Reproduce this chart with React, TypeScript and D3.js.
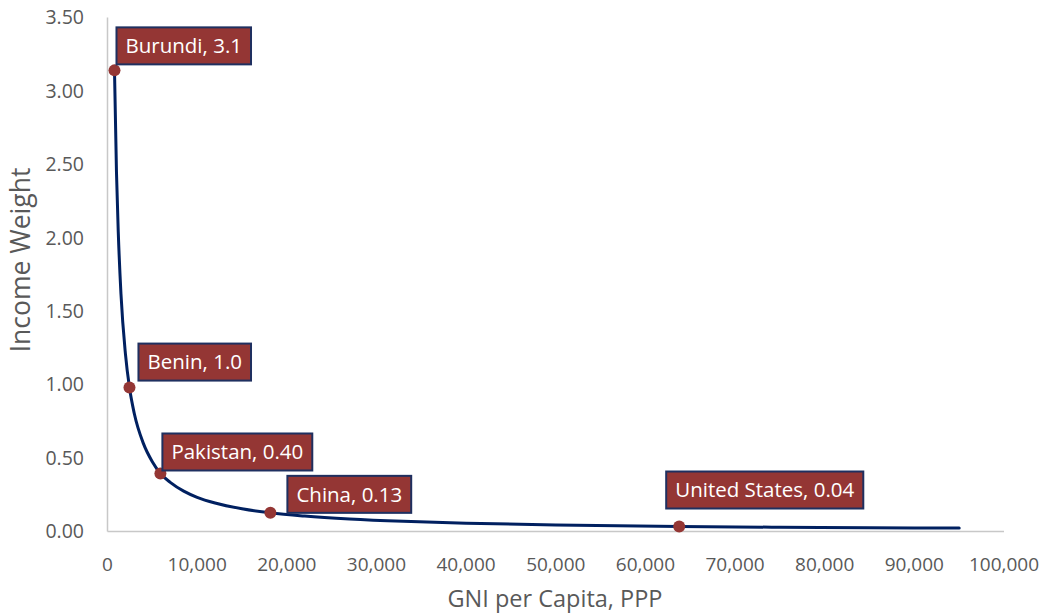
import React, { useEffect, useRef } from "react";
import * as d3 from "d3";

const curveX = [780, 1000, 1200, 1500, 2000, 2450, 3000, 4000, 5000, 5900, 7000, 8500, 10000, 12000, 15000, 18170, 22000, 27000, 33000, 40000, 50000, 63770, 75000, 85000, 95000];
const curveY = [3.14, 2.45, 2.04, 1.62, 1.21, 0.98, 0.80, 0.60, 0.475, 0.395, 0.335, 0.275, 0.233, 0.194, 0.155, 0.127, 0.105, 0.085, 0.069, 0.057, 0.045, 0.034, 0.029, 0.026, 0.023];

const countries = ["Burundi", "Benin", "Pakistan", "China", "United States"];
const countryX = [780, 2450, 5900, 18170, 63770];
const countryY = [3.14, 0.98, 0.395, 0.127, 0.034];
const countryLabel = ["3.1", "1.0", "0.40", "0.13", "0.04"];
// label box offsets (dx of left edge, dy of top edge) relative to point
const labelDx = [2, 9, 2, 17, -13];
const labelDy = [-43, -44, -40, -37, -55];

const xTicks = [0, 10000, 20000, 30000, 40000, 50000, 60000, 70000, 80000, 90000, 100000];
const yTicks = [0, 0.5, 1.0, 1.5, 2.0, 2.5, 3.0, 3.5];

const W = 1045, H = 615;
const FONT = "'Open Sans', sans-serif";

export default function App() {
  const ref = useRef<SVGSVGElement>(null);
  useEffect(() => {
    const svg = d3.select(ref.current);
    svg.selectAll("*").remove();
    const x = d3.scaleLinear().domain([0, 100000]).range([107.5, 1004]);
    const y = d3.scaleLinear().domain([0, 3.5]).range([531.5, 17.5]);
    const axisColor = "#c8c8c8";
    const textColor = "#595959";

    svg.append("line").attr("x1", x(0)).attr("x2", x(0)).attr("y1", y(3.5)).attr("y2", y(0))
      .attr("stroke", axisColor).attr("stroke-width", 1.5);
    svg.append("line").attr("x1", x(0)).attr("x2", x(100000)).attr("y1", y(0)).attr("y2", y(0))
      .attr("stroke", axisColor).attr("stroke-width", 1.5);

    svg.append("g").selectAll("text").data(yTicks).join("text")
      .attr("x", 84).attr("y", (d) => y(d)).attr("dy", "0.35em")
      .attr("text-anchor", "end").attr("font-family", FONT).attr("font-size", 19.5)
      .attr("fill", textColor).text((d) => d3.format(".2f")(d));

    svg.append("g").selectAll("text").data(xTicks).join("text")
      .attr("x", (d) => x(d)).attr("y", 564).attr("dy", "0.35em")
      .attr("text-anchor", "middle").attr("font-family", FONT).attr("font-size", 19)
      .attr("fill", textColor).text((d) => d3.format(",")(d));

    svg.append("text").attr("x", 555).attr("y", 599).attr("dy", "0.35em")
      .attr("text-anchor", "middle").attr("font-family", FONT).attr("font-size", 23.5)
      .attr("fill", textColor).text("GNI per Capita, PPP");
    svg.append("text").attr("transform", "translate(21,260) rotate(-90)").attr("dy", "0.35em")
      .attr("text-anchor", "middle").attr("font-family", FONT).attr("font-size", 26.5)
      .attr("fill", textColor).text("Income Weight");

    const pts = curveX.map((v, i) => [v, curveY[i]] as [number, number]);
    const line = d3.line<[number, number]>().x((d) => x(d[0])).y((d) => y(d[1])).curve(d3.curveMonotoneX);
    svg.append("path").attr("d", line(pts)).attr("fill", "none")
      .attr("stroke", "#002060").attr("stroke-width", 3).attr("stroke-linecap", "round");

    svg.append("g").selectAll("circle").data(countries).join("circle")
      .attr("cx", (_, i) => x(countryX[i])).attr("cy", (_, i) => y(countryY[i])).attr("r", 6)
      .attr("fill", "#943634");

    countries.forEach((c, i) => {
      const g = svg.append("g");
      const px = x(countryX[i]) + labelDx[i];
      const py = y(countryY[i]) + labelDy[i];
      const rect = g.append("rect").attr("x", px).attr("y", py).attr("height", 37)
        .attr("fill", "#943634").attr("stroke", "#1f3060").attr("stroke-width", 2);
      const t = g.append("text").attr("x", px + 9).attr("y", py + 18.5).attr("dy", "0.35em")
        .attr("font-family", FONT).attr("font-size", 20.5).attr("fill", "#ffffff")
        .text(`${c}, ${countryLabel[i]}`);
      const w = (t.node() as SVGTextElement).getComputedTextLength();
      rect.attr("width", w + 18);
    });
  }, []);
  return (
    <svg ref={ref} width={W} height={H} style={{ display: "block", position: "absolute", left: 0, top: 0, background: "#fff" }} />
  );
}
